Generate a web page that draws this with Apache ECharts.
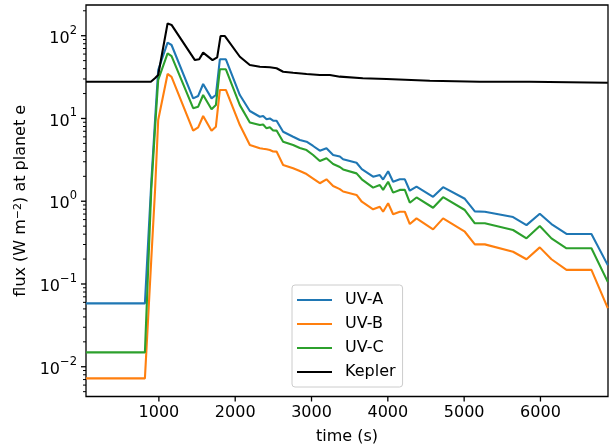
<!DOCTYPE html>
<html>
<head>
<meta charset="utf-8">
<script src="https://cdn.jsdelivr.net/npm/echarts@6/dist/echarts.min.js"></script>
<style>
html,body{margin:0;padding:0;background:#fff;}
#chart{width:612px;height:446px;}
</style>
</head>
<body>
<div id="chart"></div>
<script>
// ---- data ----
const time = [45, 817, 900, 950, 991, 1114, 1166, 1449, 1515, 1580, 1690, 1747, 1799, 1878, 2061, 2192, 2323, 2366, 2411, 2454, 2497, 2542, 2628, 2759, 2847, 2935, 3021, 3109, 3196, 3283, 3371, 3414, 3590, 3659, 3807, 3895, 3938, 4004, 4069, 4157, 4223, 4288, 4376, 4593, 4724, 5009, 5140, 5271, 5641, 5817, 5991, 6144, 6341, 6668, 6882];
const uvA = [0.0583, 0.0583, 1.66, 9.58, 38.5, 82.3, 77.2, 17.5, 18.7, 26.1, 17.5, 19.2, 51.9, 51.9, 19.2, 12.3, 10.5, 10.7, 9.77, 10.0, 9.39, 9.39, 6.92, 6.02, 5.49, 5.24, 4.65, 4.08, 4.36, 3.62, 3.47, 3.21, 2.92, 2.44, 1.98, 2.07, 1.83, 2.30, 1.72, 1.84, 1.84, 1.34, 1.50, 1.13, 1.48, 1.07, 0.755, 0.746, 0.644, 0.515, 0.706, 0.530, 0.402, 0.402, 0.169];
const uvB = [0.00724, 0.00724, 0.195, 1.37, 9.58, 34.5, 31.9, 7.11, 7.82, 10.7, 7.11, 7.95, 22.1, 22.1, 8.33, 4.78, 4.36, 4.30, 4.24, 4.15, 3.99, 3.98, 2.74, 2.50, 2.32, 2.13, 1.88, 1.65, 1.84, 1.53, 1.40, 1.31, 1.19, 0.986, 0.798, 0.857, 0.746, 0.944, 0.695, 0.746, 0.746, 0.530, 0.621, 0.457, 0.621, 0.428, 0.301, 0.301, 0.245, 0.199, 0.277, 0.199, 0.148, 0.148, 0.0512];
const uvC = [0.0149, 0.0149, 1.37, 7.67, 29.2, 61.3, 56.8, 13.3, 13.9, 19.2, 12.9, 14.5, 39.3, 39.3, 14.5, 8.93, 8.33, 8.45, 7.60, 7.82, 7.15, 7.14, 5.24, 4.78, 4.39, 4.15, 3.62, 3.06, 3.30, 2.82, 2.59, 2.42, 2.17, 1.84, 1.46, 1.57, 1.37, 1.72, 1.27, 1.37, 1.37, 0.959, 1.11, 0.834, 1.12, 0.783, 0.541, 0.541, 0.449, 0.356, 0.501, 0.356, 0.270, 0.270, 0.106];
const keplerTime = [45, 895, 948, 991, 1114, 1166, 1472, 1528, 1580, 1703, 1764, 1808, 1865, 2061, 2192, 2323, 2454, 2542, 2628, 2759, 2935, 3109, 3240, 3371, 3672, 3983, 4550, 5205, 5860, 6882];
const kepler = [27.8, 27.8, 30.6, 33.5, 141, 135, 50.8, 51.9, 62.4, 50.8, 54.8, 99, 99, 55.7, 44.3, 42.2, 41.5, 40.4, 36.7, 35.7, 34.5, 33.5, 33.5, 32.0, 30.6, 30.0, 28.6, 27.8, 27.8, 27.0];
const seriesNames = ['UV-A', 'UV-B', 'UV-C', 'Kepler'];
const xTickValues = [1000, 2000, 3000, 4000, 5000, 6000];
const yMajorValues = [0.01, 0.1, 1, 10, 100];
const yMinorValues = [0.005, 0.006, 0.007, 0.008, 0.009, 0.02, 0.03, 0.04, 0.05, 0.06, 0.07, 0.08, 0.09, 0.2, 0.3, 0.4, 0.5, 0.6, 0.7, 0.8, 0.9, 2, 3, 4, 5, 6, 7, 8, 9, 20, 30, 40, 50, 60, 70, 80, 90, 200];

// ---- chart ----
const XMIN = 45, XMAX = 6885, YMIN = 0.00437, YMAX = 235;
const FONT = 'DejaVu Sans';
const colors = ['#1f77b4', '#ff7f0e', '#2ca02c', '#000000'];
const pair = (xs, ys) => xs.map((x, i) => [x, ys[i]]);

const tickData = [];
xTickValues.forEach(v => tickData.push([v, YMIN, 0]));
yMajorValues.forEach(v => tickData.push([XMIN, v, 1]));
yMinorValues.forEach(v => tickData.push([XMIN, v, 2]));

const chart = echarts.init(document.getElementById('chart'), null, {renderer: 'canvas'});
const lineSeries = [uvA, uvB, uvC].map((ys, i) => ({
  name: seriesNames[i], type: 'line', data: pair(time, ys),
  symbol: 'none', lineStyle: {width: 2.1, color: colors[i]}, itemStyle: {color: colors[i]},
  animation: false, z: 3
}));
lineSeries.push({
  name: seriesNames[3], type: 'line', data: pair(keplerTime, kepler),
  symbol: 'none', lineStyle: {width: 2.1, color: colors[3]}, itemStyle: {color: colors[3]},
  animation: false, z: 3
});

chart.setOption({
  animation: false,
  backgroundColor: '#ffffff',
  grid: {left: 86, right: 4, top: 5, bottom: 49.5, containLabel: false, outerBoundsMode: 'none',
    show: true, borderColor: '#000', borderWidth: 1.3, backgroundColor: 'transparent'},
  legend: {
    data: seriesNames, orient: 'vertical', left: 292, top: 285,
    icon: 'rect', itemWidth: 35, itemHeight: 2, itemGap: 8,
    padding: [7, 7, 7, 5],
    backgroundColor: 'rgba(255,255,255,0.8)', borderColor: '#cccccc', borderWidth: 1, borderRadius: 3,
    textStyle: {fontFamily: FONT, fontSize: 16, color: '#000', padding: [0, 0, 0, 8]}
  },
  xAxis: {
    type: 'value', min: XMIN, max: XMAX,
    name: 'time (s)', nameLocation: 'middle', nameGap: 32,
    nameTextStyle: {fontFamily: FONT, fontSize: 16, color: '#000', verticalAlign: 'top'},
    axisLine: {show: false}, axisTick: {show: false}, splitLine: {show: false},
    axisLabel: {
      fontFamily: FONT, fontSize: 16, color: '#000', margin: 8,
      formatter: v => (Math.abs(v % 1000) < 1e-6 ? String(v) : '')
    }
  },
  yAxis: {
    type: 'log', logBase: 10, min: YMIN, max: YMAX,
    name: 'flux (W m{s|−2}) at planet e', nameLocation: 'middle', nameGap: 51, nameRotate: 90,
    nameTextStyle: {fontFamily: FONT, fontSize: 16, color: '#000',
      rich: {s: {fontFamily: FONT, fontSize: 11, color: '#000', verticalAlign: 'top', lineHeight: 12}}},
    axisLine: {show: false}, axisTick: {show: false}, splitLine: {show: false}, minorTick: {show: false},
    axisLabel: {
      fontFamily: FONT, color: '#000', margin: 9,
      formatter: v => {
        const l = Math.log10(v), e = Math.round(l);
        if (Math.abs(l - e) > 1e-6) return '';
        return '{b|10}{s|' + (e < 0 ? '−' + (-e) : e) + '}';
      },
      rich: {
        b: {fontFamily: FONT, fontSize: 16, color: '#000', lineHeight: 22, verticalAlign: 'bottom'},
        s: {fontFamily: FONT, fontSize: 11.5, color: '#000', lineHeight: 14, verticalAlign: 'top'}
      }
    }
  },
  series: lineSeries.concat([{
    type: 'custom', coordinateSystem: 'cartesian2d', silent: true, clip: false, z: 5,
    data: tickData,
    encode: {x: 0, y: 1},
    renderItem: (params, api) => {
      const p = api.coord([api.value(0), api.value(1)]);
      const kind = api.value(2);
      if (kind === 0) {
        return {type: 'line', shape: {x1: p[0], y1: p[1], x2: p[0], y2: p[1] + 5}, style: {stroke: '#000', lineWidth: 1.3}};
      }
      const len = kind === 1 ? 5 : 3;
      return {type: 'line', shape: {x1: p[0] - len, y1: p[1], x2: p[0], y2: p[1]}, style: {stroke: '#000', lineWidth: kind === 1 ? 1.3 : 1}};
    }
  }])
});
</script>
</body>
</html>
